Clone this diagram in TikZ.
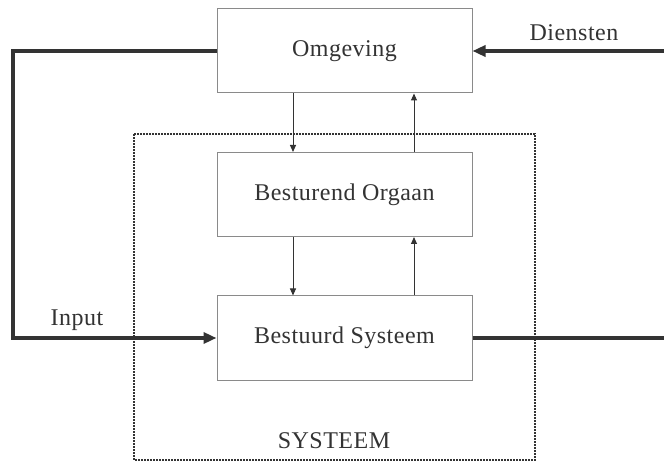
\documentclass[tikz,border=0pt]{standalone}
\usepackage{fontspec}
\setmainfont{Liberation Serif}
\usetikzlibrary{arrows.meta}
\definecolor{ink}{HTML}{333333}
\definecolor{frame}{HTML}{8A8A8A}
\tikzset{
  blok/.style={draw=frame, line width=1pt, minimum width=255pt, minimum height=84pt,
    inner sep=0pt, text=ink, font=\fontsize{24}{28}\selectfont\addfontfeature{LetterSpace=2}},
  label/.style={text=ink, inner sep=0pt, anchor=base, font=\fontsize{24}{28}\selectfont\addfontfeature{LetterSpace=2}},
  dik/.style={draw=ink, line width=4pt, line join=miter},
  dikpijl/.style={dik, -{Triangle[length=13pt,width=11pt]}},
  dun/.style={draw=ink, line width=1pt, -{Triangle[length=7pt,width=6pt]}},
  grens/.style={draw=ink, line width=2.8pt, dash pattern=on 2pt off 1pt}
}
\begin{document}
\begin{tikzpicture}[x=1pt, y=-1pt]
  \useasboundingbox (0,0) rectangle (664,462);
  % system boundary
  \draw[grens] (134,134) rectangle (535,460);
  % blocks
  \node[blok] (omg) at (344.5,51) {Omgeving};
  \node[blok] (org) at (344.5,194.5) {Besturend Orgaan};
  \node[blok] (sys) at (344.5,338) {Bestuurd Systeem};
  % free ends of the heavy lines
  \coordinate (lb) at (13,51);
  \coordinate (lo) at (13,338);
  \coordinate (rb) at (664,51);
  \coordinate (ro) at (664,338);
  % heavy flows
  \draw[dikpijl] (omg.west) -- (lb) -- (lo) -- (sys.west);
  \draw[dikpijl] (rb) -- (omg.east);
  \draw[dik] (sys.east) -- (ro);
  % control arrows
  \draw[dun] (omg.south -| 293,0) -- (org.north -| 293,0);
  \draw[dun] (org.south -| 293,0) -- (sys.north -| 293,0);
  \draw[dun] (org.north -| 414,0) -- (omg.south -| 414,0);
  \draw[dun] (sys.north -| 414,0) -- (org.south -| 414,0);
  % labels
  \node[label] (dienst) at (574,41) {Diensten};
  \node[label] (input) at (77,326) {Input};
  \node[label] (systeem) at (334,448) {SYSTEEM};
\end{tikzpicture}
\end{document}
